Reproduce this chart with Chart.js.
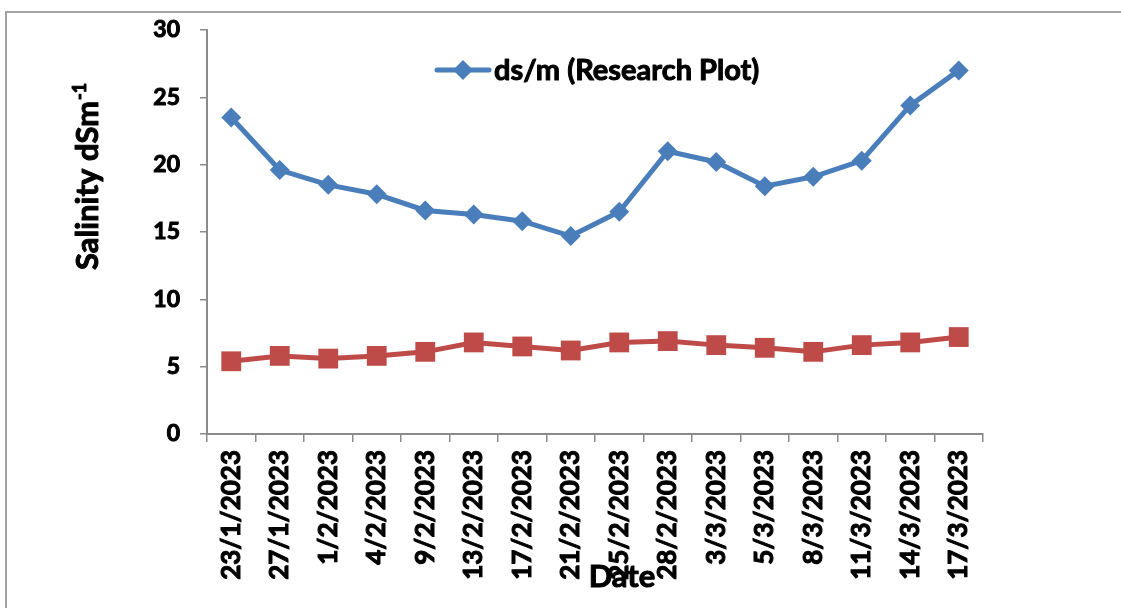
<!DOCTYPE html>
<html>
<head>
<meta charset="utf-8">
<script src="https://cdn.jsdelivr.net/npm/chart.js@4.4.1/dist/chart.umd.min.js"></script>
<style>
  html, body { margin: 0; padding: 0; background: #fff; overflow: hidden; }
  #wrap { position: relative; width: 1121px; height: 608px; }
  #frame { position: absolute; left: 5px; top: 11px; width: 1200px; height: 700px;
           border-left: 2px solid #a3a3a3; border-top: 2px solid #a3a3a3; }
  #c { position: absolute; left: 0; top: 0; }
</style>
</head>
<body>
<div id="wrap">
  <div id="frame"></div>
  <canvas id="c" width="1121" height="608"></canvas>
</div>
<script>
const dates = ["23/1/2023","27/1/2023","1/2/2023","4/2/2023","9/2/2023","13/2/2023","17/2/2023","21/2/2023",
               "25/2/2023","28/2/2023","3/3/2023","5/3/2023","8/3/2023","11/3/2023","14/3/2023","17/3/2023"];
const researchPlot = [23.5, 19.6, 18.5, 17.8, 16.6, 16.3, 15.8, 14.7, 16.5, 21.0, 20.2, 18.4, 19.1, 20.3, 24.4, 27.0];
const controlPlot  = [5.4, 5.8, 5.6, 5.8, 6.1, 6.8, 6.5, 6.2, 6.8, 6.9, 6.6, 6.4, 6.1, 6.6, 6.8, 7.2];
const yTicks = [0, 5, 10, 15, 20, 25, 30];
const researchLabel = "ds/m (Research Plot)";
const controlLabel = "ds/m (Control Plot)";
const xTitle = "Date";
const yTitle = "Salinity dSm";
const yTitleSup = "-1";

const FONT = "Lato, 'Open Sans', sans-serif";
const W = "bold";
const BLUE = "#4a7ebb";
const RED = "#be4b48";
const AXIS = "#8a8a8a";
const STROKE = 1;

function boldText(ctx, txt, x, y) {
  ctx.lineWidth = STROKE;
  ctx.strokeStyle = "#000";
  ctx.lineJoin = "round";
  ctx.strokeText(txt, x, y);
  ctx.fillText(txt, x, y);
}

const overlay = {
  id: 'overlay',
  afterDraw(chart) {
    const ctx = chart.ctx;
    const ca = chart.chartArea;
    ctx.save();
    ctx.fillStyle = "#000";
    // Y title with superscript
    ctx.save();
    ctx.translate(ca.left - 109, ca.bottom - 164);
    ctx.rotate(-Math.PI / 2);
    ctx.font = W + " 31px " + FONT;
    ctx.textAlign = "left";
    ctx.textBaseline = "alphabetic";
    boldText(ctx, yTitle, 0, 0);
    const w = ctx.measureText(yTitle).width;
    ctx.font = W + " 18px " + FONT;
    boldText(ctx, yTitleSup, w + 1, -12);
    ctx.restore();
    // X title
    ctx.font = W + " 31px " + FONT;
    ctx.textAlign = "center";
    ctx.textBaseline = "alphabetic";
    boldText(ctx, xTitle, (ca.left + ca.right) / 2 + 27, ca.bottom + 153);
    // Legend (first dataset only)
    const ds = chart.data.datasets[0];
    const ly = ca.top + 40;
    const lx = ca.left + 230;
    ctx.strokeStyle = ds.borderColor;
    ctx.lineWidth = ds.borderWidth;
    ctx.lineCap = "round";
    ctx.beginPath();
    ctx.moveTo(lx, ly);
    ctx.lineTo(lx + 52, ly);
    ctx.stroke();
    ctx.fillStyle = ds.pointBackgroundColor;
    const r = 10;
    ctx.beginPath();
    ctx.moveTo(lx + 26, ly - r);
    ctx.lineTo(lx + 26 + r, ly);
    ctx.lineTo(lx + 26, ly + r);
    ctx.lineTo(lx + 26 - r, ly);
    ctx.closePath();
    ctx.fill();
    ctx.fillStyle = "#000";
    ctx.font = W + " 29px " + FONT;
    ctx.textAlign = "left";
    ctx.textBaseline = "middle";
    boldText(ctx, ds.label, lx + 57, ly + 1);
    ctx.restore();
  }
};

new Chart(document.getElementById('c'), {
  type: 'line',
  data: {
    labels: dates,
    datasets: [
      {
        label: researchLabel,
        data: researchPlot,
        borderColor: BLUE,
        backgroundColor: BLUE,
        pointBackgroundColor: BLUE,
        pointBorderColor: BLUE,
        borderWidth: 5,
        pointStyle: 'rectRot',
        pointRadius: 10,
        pointBorderWidth: 0,
        tension: 0
      },
      {
        label: controlLabel,
        data: controlPlot,
        borderColor: RED,
        backgroundColor: RED,
        pointBackgroundColor: RED,
        pointBorderColor: RED,
        borderWidth: 5,
        pointStyle: 'rect',
        pointRadius: 14,
        pointBorderWidth: 0,
        tension: 0
      }
    ]
  },
  options: {
    responsive: false,
    animation: false,
    devicePixelRatio: 1,
    layout: { padding: { top: 30, right: 138, left: 0, bottom: 0 } },
    plugins: { legend: { display: false }, tooltip: { enabled: false } },
    scales: {
      x: {
        type: 'category',
        offset: true,
        grid: { offset: true, drawOnChartArea: false, drawTicks: true, tickLength: 8, color: AXIS, lineWidth: 1.5 },
        border: { display: true, color: AXIS, width: 2 },
        ticks: {
          color: "#000",
          textStrokeColor: "#000",
          textStrokeWidth: STROKE,
          font: { family: FONT, size: 26, weight: W },
          minRotation: 90, maxRotation: 90, autoSkip: false, padding: 8
        },
        afterFit(scale) { scale.height = 174; scale.paddingLeft = 0; scale.paddingRight = 0; }
      },
      y: {
        min: 0, max: 30,
        afterBuildTicks(scale) { scale.ticks = yTicks.map(v => ({ value: v })); },
        grid: { drawOnChartArea: false, drawTicks: true, tickLength: 7, color: AXIS, lineWidth: 1.5 },
        border: { display: true, color: AXIS, width: 2 },
        ticks: {
          color: "#000",
          textStrokeColor: "#000",
          textStrokeWidth: STROKE,
          font: { family: FONT, size: 23, weight: W },
          padding: 20
        },
        afterFit(scale) { scale.width = 207; scale.paddingTop = 0; scale.paddingBottom = 0; }
      }
    }
  },
  plugins: [overlay]
});
</script>
</body>
</html>
